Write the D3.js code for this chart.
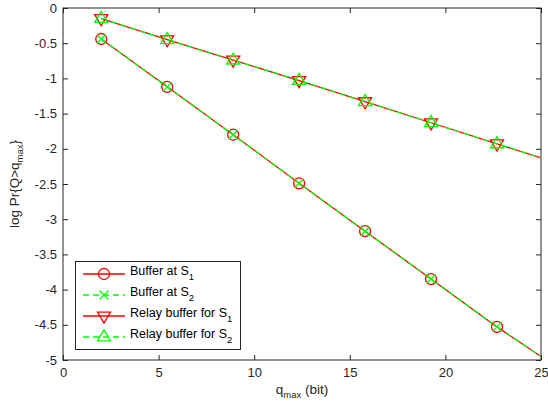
<!DOCTYPE html>
<html><head><meta charset="utf-8">
<script src="https://cdn.jsdelivr.net/npm/d3@7"></script>
<style>body{margin:0;background:#fff}svg{display:block}text{font-family:"Liberation Sans",Arial,sans-serif}</style>
</head><body><svg id="c" width="548" height="411"></svg>
<script>
const xVals = [2, 5.45, 8.9, 12.35, 15.8, 19.25, 22.7, 25];
const bufS1 = [-0.44, -1.12, -1.80, -2.49, -3.17, -3.85, -4.53, -4.95];
const bufS2 = [-0.44, -1.12, -1.80, -2.49, -3.17, -3.85, -4.53, -4.95];
const relayS1 = [-0.15, -0.45, -0.74, -1.03, -1.33, -1.63, -1.93, -2.13];
const relayS2 = [-0.15, -0.45, -0.74, -1.03, -1.33, -1.63, -1.93, -2.13];
const markerCount = 7;
const xTicks = [0, 5, 10, 15, 20, 25];
const yTicks = [0, -0.5, -1, -1.5, -2, -2.5, -3, -3.5, -4, -4.5, -5];
const seriesNames = ["Buffer at S", "Buffer at S", "Relay buffer for S", "Relay buffer for S"];
const seriesSubs = ["1", "2", "1", "2"];

const series = [
  {vals: bufS1, color: "#ff0000", dash: null, marker: "circle"},
  {vals: bufS2, color: "#00ff00", dash: "6,4", marker: "x"},
  {vals: relayS1, color: "#ff0000", dash: null, marker: "tdown"},
  {vals: relayS2, color: "#00ff00", dash: "6,4", marker: "tup"}
];

const svg = d3.select("#c");
const L = 63, R = 541, T = 8, B = 360;
const x = d3.scaleLinear().domain([0, 25]).range([L, R]);
const y = d3.scaleLinear().domain([-5, 0]).range([B, T]);

function drawMarker(g, type, cx, cy, color) {
  if (type === "circle") {
    g.append("circle").attr("cx", cx).attr("cy", cy).attr("r", 5.5)
      .attr("fill", "none").attr("stroke", color).attr("stroke-width", 1.3);
  } else if (type === "x") {
    const s = 4.5;
    g.append("path").attr("d", `M${cx-s},${cy-s}L${cx+s},${cy+s}M${cx-s},${cy+s}L${cx+s},${cy-s}`)
      .attr("stroke", color).attr("stroke-width", 1.3).attr("fill", "none");
  } else if (type === "tdown") {
    const s = 6.5;
    g.append("path").attr("d", `M${cx-s},${cy-s*0.6}L${cx+s},${cy-s*0.6}L${cx},${cy+s*1.1}Z`)
      .attr("stroke", color).attr("stroke-width", 1.3).attr("fill", "none");
  } else if (type === "tup") {
    const s = 6.5;
    g.append("path").attr("d", `M${cx-s},${cy+s*0.6}L${cx+s},${cy+s*0.6}L${cx},${cy-s*1.1}Z`)
      .attr("stroke", color).attr("stroke-width", 1.3).attr("fill", "none");
  }
}

const ax = svg.append("g");
ax.append("rect").attr("x", L).attr("y", T).attr("width", R - L).attr("height", B - T)
  .attr("fill", "none").attr("stroke", "#262626").attr("stroke-width", 1);

const xAxisB = d3.axisBottom(x).tickValues(xTicks).tickSize(-5).tickPadding(8).tickFormat(d3.format("d"));
const gxb = svg.append("g").attr("transform", `translate(0,${B})`).call(xAxisB);
const gxt = svg.append("g").attr("transform", `translate(0,${T})`).call(d3.axisTop(x).tickValues(xTicks).tickSize(-5).tickFormat(""));
const yAxisL = d3.axisLeft(y).tickValues(yTicks).tickSize(-5).tickPadding(6).tickFormat(d => String(d));
const gyl = svg.append("g").attr("transform", `translate(${L},0)`).call(yAxisL);
const gyr = svg.append("g").attr("transform", `translate(${R},0)`).call(d3.axisRight(y).tickValues(yTicks).tickSize(-5).tickFormat(""));
[gxb, gxt, gyl, gyr].forEach(g => {
  g.select(".domain").remove();
  g.selectAll("line").attr("stroke", "#262626");
  g.selectAll("text").attr("fill", "#262626").style("font-size", "13px").style("font-family", "Liberation Sans, Arial, sans-serif");
});

const line = d3.line().x((d, i) => x(xVals[i])).y(d => y(d));
series.forEach(s => {
  svg.append("path").datum(s.vals).attr("d", line).attr("fill", "none")
    .attr("stroke", s.color).attr("stroke-width", 1.3).attr("stroke-dasharray", s.dash);
});
series.forEach(s => {
  const g = svg.append("g");
  s.vals.slice(0, markerCount).forEach((v, i) => drawMarker(g, s.marker, x(xVals[i]), y(v), s.color));
});

const xl = svg.append("text").attr("x", 302).attr("y", 394).attr("text-anchor", "middle")
  .attr("fill", "#262626").style("font-size", "13.5px");
xl.append("tspan").text("q");
xl.append("tspan").attr("dy", 4).style("font-size", "9.5px").text("max");
xl.append("tspan").attr("dy", -4).text(" (bit)");

const yl = svg.append("text").attr("transform", `translate(19,${(T + B) / 2}) rotate(-90)`).attr("text-anchor", "middle")
  .attr("fill", "#262626").style("font-size", "13.5px");
yl.append("tspan").text("log Pr{Q>q");
yl.append("tspan").attr("dy", 4).style("font-size", "9.5px").text("max");
yl.append("tspan").attr("dy", -4).text("}");

const lg = svg.append("g");
lg.append("rect").attr("x", 75.5).attr("y", 261.5).attr("width", 165).attr("height", 88)
  .attr("fill", "#fff").attr("stroke", "#262626").attr("stroke-width", 1);
const rowY = [274, 295, 316, 337];
series.forEach((s, i) => {
  const yy = rowY[i];
  lg.append("line").attr("x1", 83).attr("x2", 125).attr("y1", yy).attr("y2", yy)
    .attr("stroke", s.color).attr("stroke-width", 1.3).attr("stroke-dasharray", s.dash);
  drawMarker(lg, s.marker, 104, yy, s.color);
  const t = lg.append("text").attr("x", 130).attr("y", yy + 1).attr("fill", "#000").style("font-size", "12.5px");
  t.append("tspan").text(seriesNames[i]);
  t.append("tspan").attr("dy", 5).style("font-size", "9.5px").text(seriesSubs[i]);
});
</script></body></html>
